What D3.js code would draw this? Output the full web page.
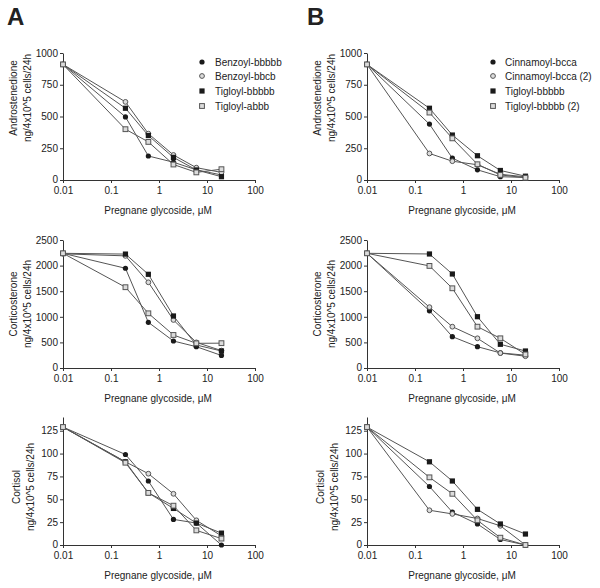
<!DOCTYPE html>
<html><head><meta charset="utf-8">
<script src="https://cdn.jsdelivr.net/npm/d3@7"></script>
<style>
body{margin:0;background:#fff;}
text{font-family:"Liberation Sans",Arial,sans-serif;fill:#222;}
</style></head>
<body><svg id="c" width="600" height="588"></svg>
<script>
// ---------- data ----------
const doses = [0.01, 0.2, 0.6, 2, 6, 20];
const xTicks = [0.01, 0.1, 1, 10, 100];
const xTickLabels = ["0.01", "0.1", "1", "10", "100"];

const seriesA = ["Benzoyl-bbbbb", "Benzoyl-bbcb", "Tigloyl-bbbbb", "Tigloyl-abbb"];
const seriesB = ["Cinnamoyl-bcca", "Cinnamoyl-bcca (2)", "Tigloyl-bbbbb", "Tigloyl-bbbbb (2)"];
// marker style per series index: filled circle, open circle, filled square, open square
const markerKinds = ["circleFilled", "circleOpen", "squareFilled", "squareOpen"];

const androA_benzoylBbbbb = [910, 497, 189, 140, 80, 40];
const androA_benzoylBbcb  = [910, 615, 365, 197, 97, 60];
const androA_tigloylBbbbb = [910, 565, 350, 178, 79, 26];
const androA_tigloylAbbb  = [910, 400, 300, 122, 60, 85];

const androB_cinnamoyl    = [910, 440, 172, 80, 26, 20];
const androB_cinnamoyl2   = [910, 209, 148, 120, 45, 25];
const androB_tigloyl      = [910, 565, 354, 191, 75, 30];
const androB_tigloyl2     = [910, 531, 328, 124, 40, 18];

const cortiA_benzoylBbbbb = [2240, 1948, 892, 527, 416, 245];
const cortiA_benzoylBbcb  = [2230, 2190, 1674, 938, 500, 340];
const cortiA_tigloylBbbbb = [2240, 2225, 1830, 1016, 449, 332];
const cortiA_tigloylAbbb  = [2240, 1578, 1068, 645, 482, 485];

const cortiB_cinnamoyl    = [2240, 1117, 612, 416, 295, 250];
const cortiB_cinnamoyl2   = [2240, 1188, 807, 580, 292, 230];
const cortiB_tigloyl      = [2240, 2227, 1836, 1002, 463, 332];
const cortiB_tigloyl2     = [2240, 1994, 1557, 807, 580, 265];

const cortisolA_benzoylBbbbb = [129, 99, 70, 28, 24, 0];
const cortisolA_benzoylBbcb  = [129, 91, 78, 56, 27, 10];
const cortisolA_tigloylBbbbb = [129, 91, 57, 40, 24, 13];
const cortisolA_tigloylAbbb  = [129, 90, 57, 43, 16, 7];

const cortisolB_cinnamoyl    = [129, 64, 36, 23, 6, 0];
const cortisolB_cinnamoyl2   = [129, 38, 34, 29, 21, 0];
const cortisolB_tigloyl      = [129, 91, 70, 39, 23, 12];
const cortisolB_tigloyl2     = [129, 74, 56, 27, 8, 0];

const androTicks = [0, 250, 500, 750, 1000];
const cortiTicks = [0, 500, 1000, 1500, 2000, 2500];
const cortisolTicks = [0, 25, 50, 75, 100, 125];

const xTitle = "Pregnane glycoside, \u03bcM";
const unitTitle = "ng/4x10^5 cells/24h";

// ---------- layout ----------
const svg = d3.select("#c");
const cols = [{x0: 63, x1: 255}, {x0: 367, x1: 559}];
const rows = [
  {yb: 180, yt: 53, dom: [0, 1000], ticks: androTicks, title: "Androstenedione", tc: 98, off: [-50, -36]},
  {yb: 368, yt: 240, dom: [0, 2500], ticks: cortiTicks, title: "Corticosterone", tc: 304, off: [-50, -36]},
  {yb: 545, yt: 417, dom: [0, 140], ticks: cortisolTicks, title: "Cortisol", tc: 487, off: [-47, -33]}
];
const panelData = [
  [[androA_benzoylBbbbb, androA_benzoylBbcb, androA_tigloylBbbbb, androA_tigloylAbbb],
   [androB_cinnamoyl, androB_cinnamoyl2, androB_tigloyl, androB_tigloyl2]],
  [[cortiA_benzoylBbbbb, cortiA_benzoylBbcb, cortiA_tigloylBbbbb, cortiA_tigloylAbbb],
   [cortiB_cinnamoyl, cortiB_cinnamoyl2, cortiB_tigloyl, cortiB_tigloyl2]],
  [[cortisolA_benzoylBbbbb, cortisolA_benzoylBbcb, cortisolA_tigloylBbbbb, cortisolA_tigloylAbbb],
   [cortisolB_cinnamoyl, cortisolB_cinnamoyl2, cortisolB_tigloyl, cortisolB_tigloyl2]]
];

function drawMarker(g, kind, cx, cy) {
  const dark = "#1a1a1a", mid = "#555", light = "#dcdcdc";
  if (kind === "circleFilled") {
    g.append("circle").attr("cx", cx).attr("cy", cy).attr("r", 2.6).attr("fill", dark);
  } else if (kind === "circleOpen") {
    g.append("circle").attr("cx", cx).attr("cy", cy).attr("r", 2.4).attr("fill", light).attr("stroke", mid).attr("stroke-width", 1);
  } else if (kind === "squareFilled") {
    g.append("rect").attr("x", cx - 2.6).attr("y", cy - 2.6).attr("width", 5.2).attr("height", 5.2).attr("fill", dark);
  } else {
    g.append("rect").attr("x", cx - 2.4).attr("y", cy - 2.4).attr("width", 4.8).attr("height", 4.8).attr("fill", light).attr("stroke", mid).attr("stroke-width", 1);
  }
}

rows.forEach((r, ri) => {
  cols.forEach((c, ci) => {
    const x = d3.scaleLog().domain([0.01, 100]).range([c.x0, c.x1]);
    const y = d3.scaleLinear().domain(r.dom).range([r.yb, r.yt]);
    const g = svg.append("g");

    const xa = g.append("g").attr("transform", `translate(0,${r.yb})`)
      .call(d3.axisBottom(x).tickValues(xTicks).tickFormat((d, i) => xTickLabels[i]).tickSize(3).tickPadding(4).tickSizeOuter(0));
    const ya = g.append("g").attr("transform", `translate(${c.x0},0)`)
      .call(d3.axisLeft(y).tickValues(r.ticks).tickFormat(d3.format("d")).tickSize(3).tickPadding(2).tickSizeOuter(0));
    [xa, ya].forEach(a => {
      a.select(".domain").attr("stroke", "#333").attr("stroke-width", 1);
      a.selectAll(".tick line").attr("stroke", "#333");
      a.selectAll("text").attr("font-size", 10).attr("fill", "#222")
        .attr("font-family", "Liberation Sans, Arial, sans-serif");
    });
    // lift the "0" y label slightly so it clears the x-axis labels
    ya.selectAll(".tick text").filter(d => d === 0).attr("dy", "0.2em");

    // axis titles
    g.append("text").attr("x", (c.x0 + c.x1) / 2 - 1).attr("y", r.yb + 34)
      .attr("text-anchor", "middle").attr("font-size", 10).text(xTitle);
    g.append("text").attr("transform", `translate(${c.x0 + r.off[0]},${r.tc}) rotate(-90)`)
      .attr("text-anchor", "middle").attr("dy", "0.35em").attr("font-size", 10).text(r.title);
    g.append("text").attr("transform", `translate(${c.x0 + r.off[1]},${r.tc}) rotate(-90)`)
      .attr("text-anchor", "middle").attr("dy", "0.35em").attr("font-size", 10).text(unitTitle);

    const line = d3.line().x((d, i) => x(doses[i])).y(d => y(d));
    const sets = panelData[ri][ci];
    sets.forEach(vals => {
      g.append("path").attr("d", line(vals)).attr("fill", "none").attr("stroke", "#555").attr("stroke-width", 1);
    });
    sets.forEach((vals, si) => {
      vals.forEach((v, i) => drawMarker(g, markerKinds[si], x(doses[i]), y(v)));
    });
  });
});

// legends
const legendY = [62, 76, 91, 106];
[[seriesA, 202, 215], [seriesB, 493, 505]].forEach(([names, mx, tx]) => {
  const lg = svg.append("g");
  names.forEach((n, i) => {
    drawMarker(lg, markerKinds[i], mx, legendY[i]);
    lg.append("text").attr("x", tx).attr("y", legendY[i]).attr("dy", "0.35em").attr("font-size", 10).text(n);
  });
});

// panel letters
svg.append("text").attr("x", 7).attr("y", 25).attr("font-size", 24).attr("font-weight", "bold").attr("fill", "#111").text("A");
svg.append("text").attr("x", 307).attr("y", 25).attr("font-size", 24).attr("font-weight", "bold").attr("fill", "#111").text("B");
</script></body></html>
